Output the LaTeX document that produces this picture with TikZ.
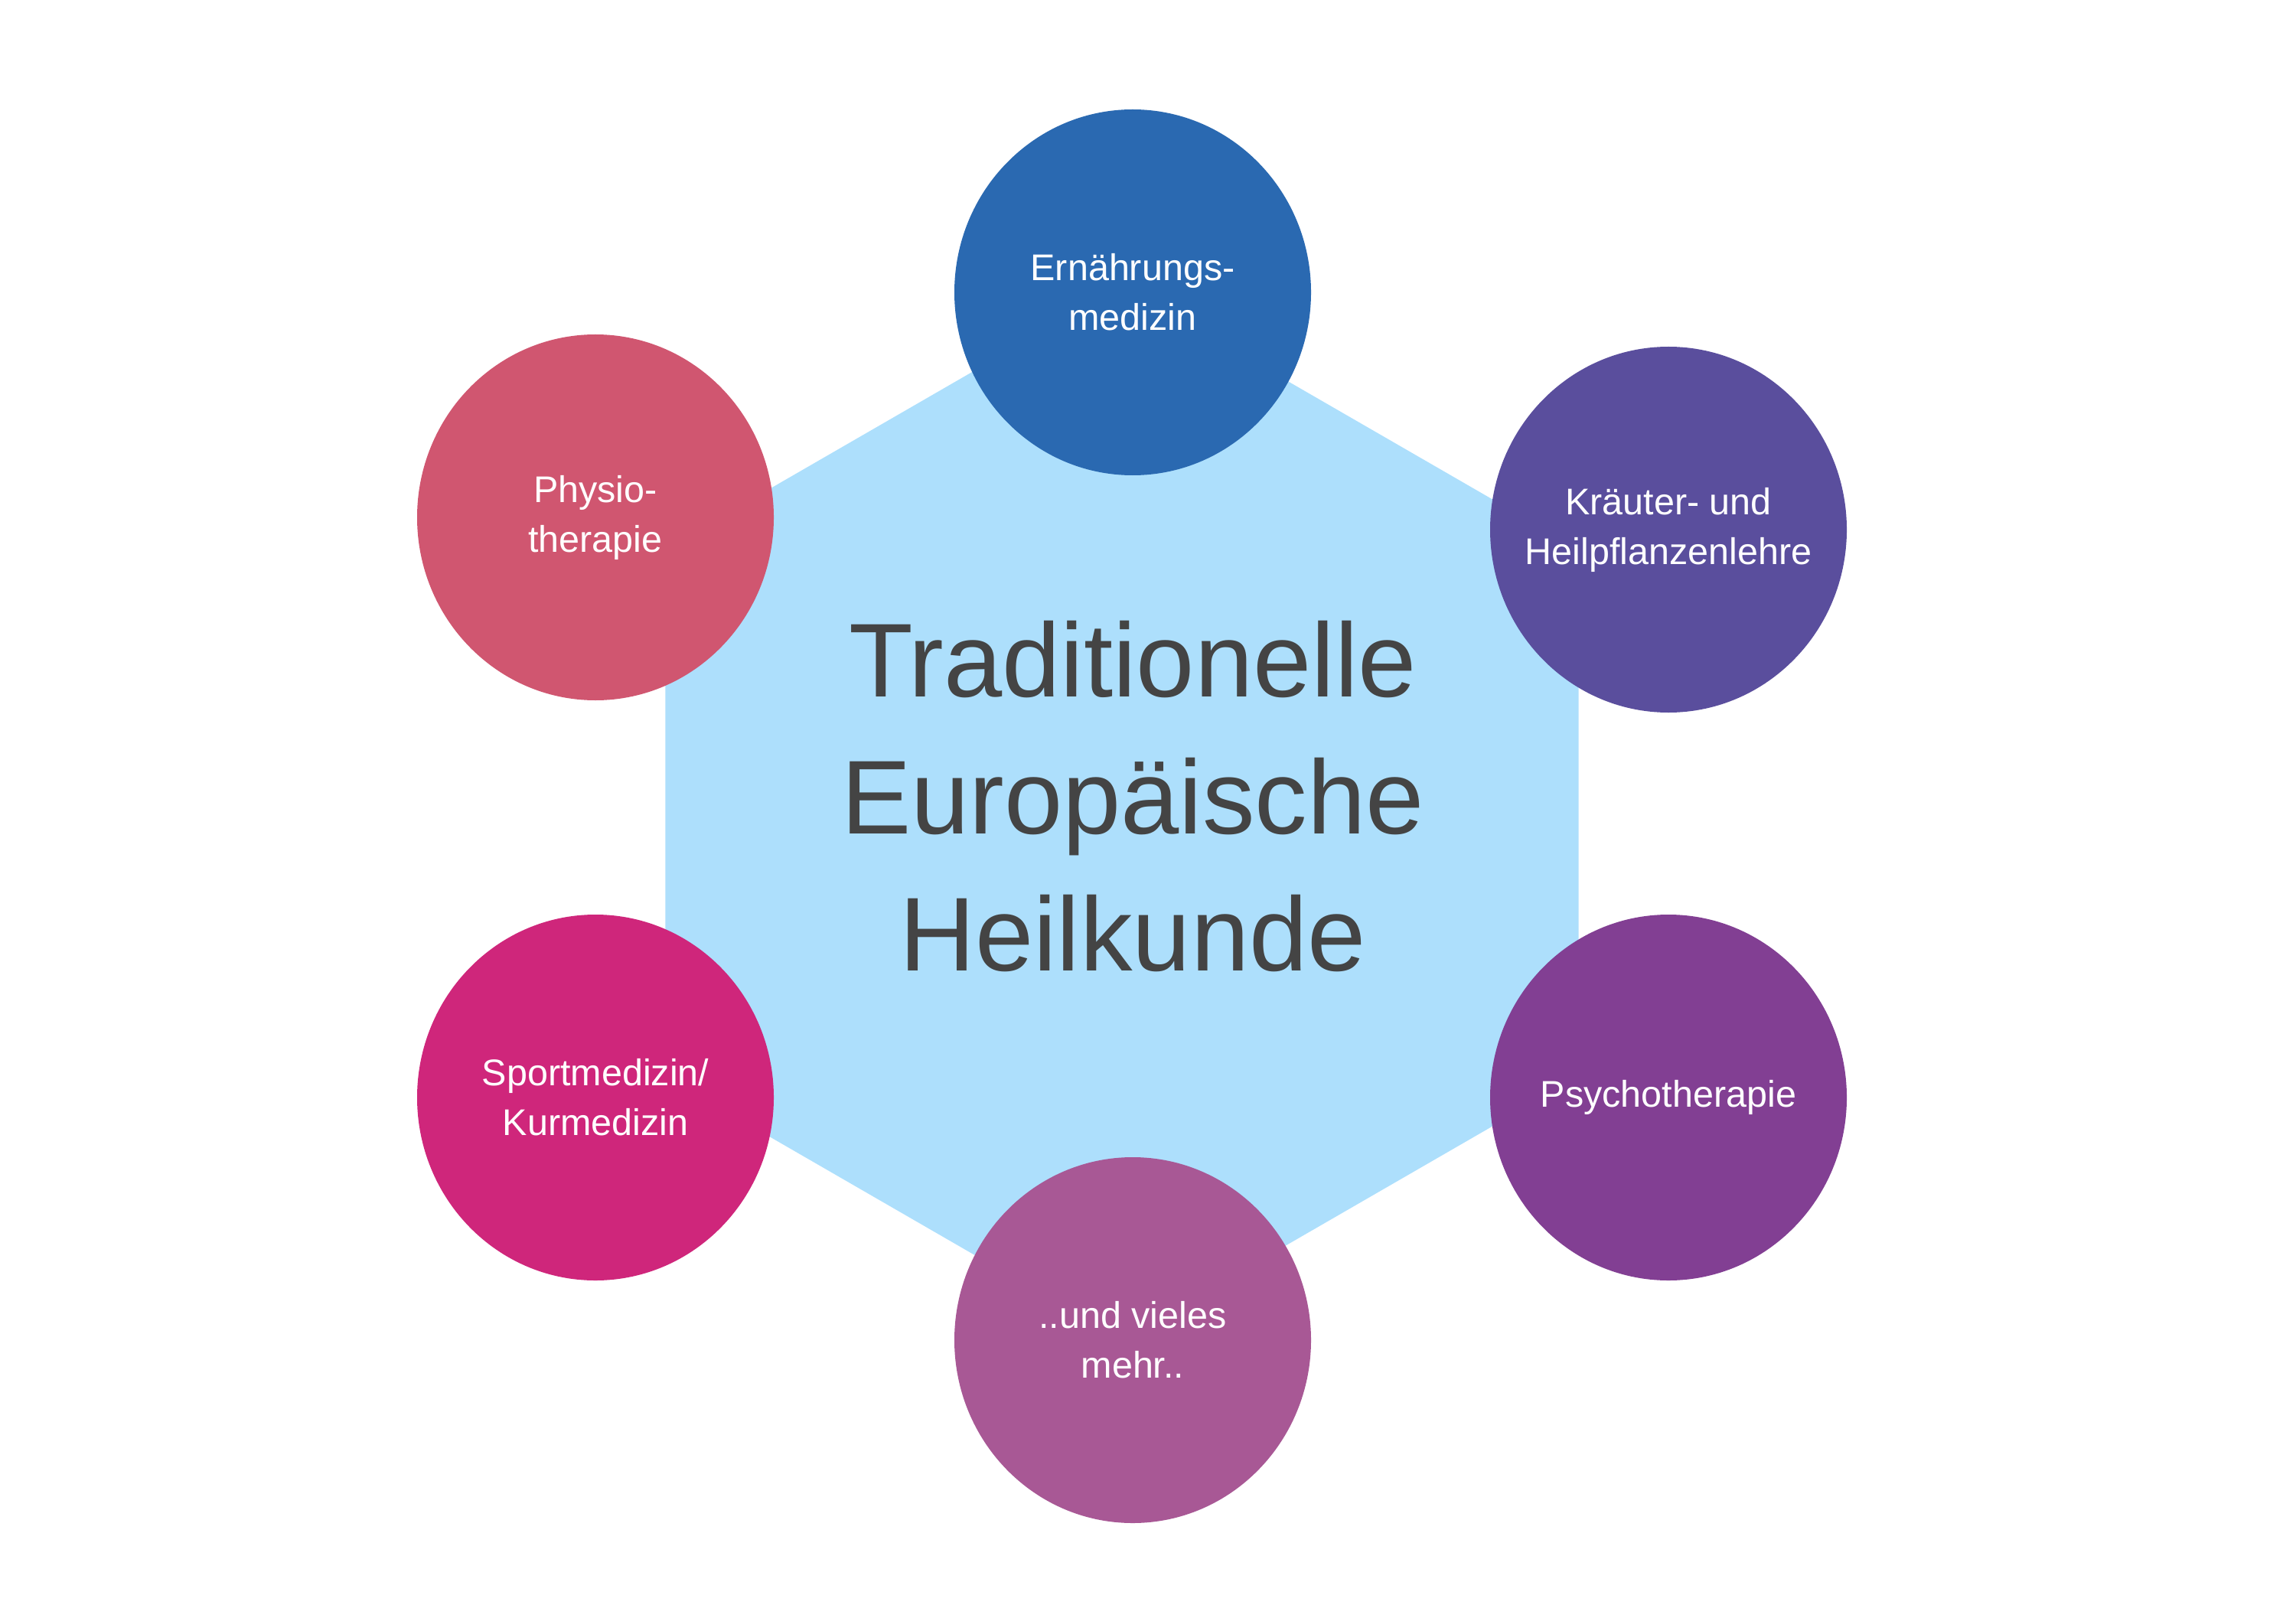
\documentclass[tikz,border=0pt]{standalone}
\usepackage{fontspec}
\setmainfont{Liberation Sans}
\usetikzlibrary{shapes.geometric}

\definecolor{hexblue}{RGB}{173,223,252}
\definecolor{titlegrey}{RGB}{68,68,68}
\definecolor{nutriblue}{RGB}{42,105,177}
\definecolor{herbviolet}{RGB}{90,78,157}
\definecolor{psychpurple}{RGB}{130,63,147}
\definecolor{moremauve}{RGB}{168,88,149}
\definecolor{sportmagenta}{RGB}{207,38,123}
\definecolor{physiored}{RGB}{208,86,112}

\begin{document}
\begin{tikzpicture}[
  topic/.style={ellipse, minimum width=4.66cm, minimum height=4.78cm, inner sep=0pt,
    inner xsep=-0.35cm, text=white, align=center, font=\fontsize{13.8}{18.5}\selectfont},
  title/.style={text=titlegrey, align=center, font=\fontsize{39}{51}\selectfont}]
  \useasboundingbox (0,0) rectangle (30,21);

  % hexagon behind everything
  \coordinate (hex) at (14.66,10.38);
  \fill[hexblue] (hex) +(90:6.89) -- +(150:6.89) -- +(210:6.89) -- +(270:6.89)
    -- +(330:6.89) -- +(30:6.89) -- cycle;

  \node[title] (heilkunde) at (14.80,10.595) {Traditionelle\\Europäische\\Heilkunde};

  \node[topic, fill=nutriblue] (ernaehrung) at (14.80,17.18) {Ernährungs-\\medizin};
  \node[topic, fill=herbviolet] (kraeuter) at (21.80,14.08) {Kräuter- und\\Heilpflanzenlehre};
  \node[topic, fill=psychpurple] (psycho) at (21.80,6.66) {Psychotherapie};
  \node[topic, fill=moremauve] (mehr) at (14.80,3.49) {..und vieles\\mehr..};
  \node[topic, fill=sportmagenta] (sport) at (7.78,6.66) {Sportmedizin/\\Kurmedizin};
  \node[topic, fill=physiored] (physio) at (7.78,14.24) {Physio-\\therapie};
\end{tikzpicture}
\end{document}
